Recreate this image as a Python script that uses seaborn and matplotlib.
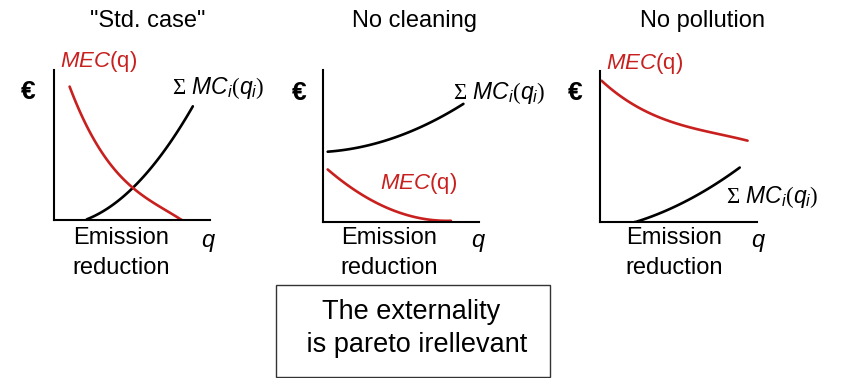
import numpy as np
import pandas as pd
import matplotlib
matplotlib.use("Agg")
import matplotlib.pyplot as plt
import matplotlib.patches as mpatches
import seaborn as sns

# curve points, (x, y) in axis units 0..1
std_mc_x = [0.21, 0.35, 0.51, 0.65, 0.72, 0.80, 0.89]
std_mc_y = [0.00, 0.09, 0.22, 0.37, 0.49, 0.60, 0.76]
std_mec_x = [0.10, 0.19, 0.29, 0.40, 0.50, 0.64, 0.82]
std_mec_y = [0.89, 0.67, 0.47, 0.33, 0.22, 0.11, 0.00]

noclean_mc_x = [0.03, 0.25, 0.47, 0.69, 0.90]
noclean_mc_y = [0.46, 0.50, 0.56, 0.65, 0.78]
noclean_mec_x = [0.03, 0.15, 0.30, 0.47, 0.65, 0.82]
noclean_mec_y = [0.36, 0.23, 0.14, 0.08, 0.03, 0.00]

nopol_mec_x = [0.01, 0.10, 0.24, 0.40, 0.56, 0.75, 0.94]
nopol_mec_y = [0.94, 0.85, 0.76, 0.69, 0.63, 0.58, 0.54]
nopol_mc_x = [0.22, 0.40, 0.56, 0.72, 0.89]
nopol_mc_y = [0.00, 0.06, 0.15, 0.24, 0.36]

titles = ['"Std. case"', "No cleaning", "No pollution"]
box_lines = ["The externality", " is pareto irellevant"]

RED = "#c8201e"
W, H = 843, 378

sns.set_style("white")
plt.rcParams["font.family"] = ["Liberation Sans", "DejaVu Sans"]
plt.rcParams["text.color"] = "black"
plt.rcParams["mathtext.fontset"] = "custom"
plt.rcParams["mathtext.rm"] = "Liberation Serif"
plt.rcParams["mathtext.it"] = "Liberation Sans:italic"

fig = plt.figure(figsize=(W / 100, H / 100), dpi=100)


def px(x, y):
    return x / W, 1 - y / H


def make_axes(left, top, right, bottom):
    ax = fig.add_axes([left / W, 1 - bottom / H, (right - left) / W, (bottom - top) / H])
    ax.set_xlim(0, 1)
    ax.set_ylim(0, 1)
    ax.set_xticks([])
    ax.set_yticks([])
    sns.despine(ax=ax)
    for s in ("left", "bottom"):
        ax.spines[s].set_linewidth(1.5)
        ax.spines[s].set_color("black")
    ax.patch.set_alpha(0)
    return ax


# (axes, mc curve, mec curve, fit degrees)
panels = [
    (make_axes(54, 70, 210, 220), (std_mc_x, std_mc_y), (std_mec_x, std_mec_y), (2, 3)),
    (make_axes(323, 70, 479, 222), (noclean_mc_x, noclean_mc_y), (noclean_mec_x, noclean_mec_y), (2, 2)),
    (make_axes(600, 71, 757, 222), (nopol_mc_x, nopol_mc_y), (nopol_mec_x, nopol_mec_y), (2, 3)),
]

for ax, mc, mec, degs in panels:
    for (xs, ys), col, deg in ((mc, "black", degs[0]), (mec, RED, degs[1])):
        # smooth curve through the read points
        coef = np.polyfit(xs, ys, deg)
        xx = np.linspace(xs[0], xs[-1], 80)
        yy = np.clip(np.polyval(coef, xx), 0, 1)
        sns.lineplot(x=xx, y=yy, ax=ax, color=col, linewidth=1.9, sort=False)

# titles
for t, cx in zip(titles, [148, 414, 702]):
    fig.text(*px(cx, 21), t, ha="center", va="center", fontsize=17)

mec_label = r"$MEC$(q)"
mc_label = r"$\Sigma$ $MC_i(q_i)$"
for x, y in [(60, 62), (380, 183), (606, 64)]:
    fig.text(*px(x, y), mec_label, color=RED, ha="left", va="center", fontsize=16)
for x, y in [(172, 88), (453, 93), (726, 197)]:
    fig.text(*px(x, y), mc_label, ha="left", va="center", fontsize=16.5)
for x, y in [(28, 92), (299, 93), (575, 93)]:
    fig.text(*px(x, y), "€", ha="center", va="center", fontsize=19, fontweight="bold")
for cx in [121, 389, 674]:
    fig.text(*px(cx, 238), "Emission", ha="center", va="center", fontsize=17)
    fig.text(*px(cx, 268), "reduction", ha="center", va="center", fontsize=17)
for x in [208, 478, 758]:
    fig.text(*px(x, 240), "q", ha="center", va="center", fontsize=17, style="italic")

# text box
fig.patches.append(mpatches.Rectangle(px(276, 377), 274 / W, 92 / H, transform=fig.transFigure,
                                      fill=False, edgecolor="#333333", linewidth=1))
fig.text(*px(411, 312), box_lines[0], ha="center", va="center", fontsize=19.5)
fig.text(*px(413, 345), box_lines[1], ha="center", va="center", fontsize=19.5)

fig.savefig("out.png", dpi=100)
